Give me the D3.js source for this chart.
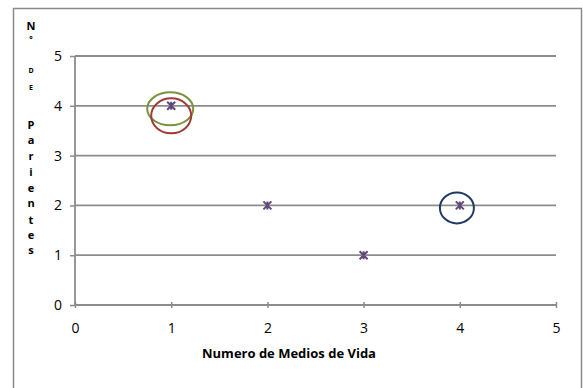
<!DOCTYPE html>
<html>
<head>
<meta charset="utf-8">
<script src="https://cdn.jsdelivr.net/npm/d3@7"></script>
<style>
  body { margin: 0; background: #fff; }
  text { font-family: "Open Sans", "Liberation Sans", sans-serif; }
</style>
</head>
<body>
<div id="chart"></div>
<script>
// data
var medios = [1, 2, 3, 4];
var parientes = [4, 2, 1, 2];
var xTicks = [0, 1, 2, 3, 4, 5];
var yTicks = [0, 1, 2, 3, 4, 5];
var yTitle = ["N", "°", "D", "E", "P", "a", "r", "i", "e", "n", "t", "e", "s"];
// hand-drawn ovals: centre in data units
var ovalX = [0.99, 1.0, 3.97];
var ovalY = [3.94, 3.8, 1.95];
var ovalColor = ["#77933c", "#a03a36", "#1f3a64"];

var width = 583, height = 388;
var margin = {top: 56, right: 27, bottom: 83, left: 75},
    w = width - margin.left - margin.right,
    h = height - margin.top - margin.bottom;

var svg = d3.select("#chart").append("svg")
    .attr("width", width)
    .attr("height", height);

// outer frame
svg.append("rect")
    .attr("x", 13.5).attr("y", 8.5)
    .attr("width", 568).attr("height", 400)
    .attr("fill", "none")
    .attr("stroke", "#8a8a8a")
    .attr("stroke-width", 1.5);

var g = svg.append("g")
    .attr("transform", "translate(" + margin.left + "," + margin.top + ")");

var x = d3.scaleLinear().domain([0, 5]).range([0, w]);
var y = d3.scaleLinear().domain([0, 5]).range([h, 0]);

// gridlines
g.selectAll(".grid")
  .data(yTicks.slice(1))
  .enter().append("line")
    .attr("x1", 0).attr("x2", w)
    .attr("y1", d => y(d)).attr("y2", d => y(d))
    .attr("stroke", "#8c8c8c")
    .attr("stroke-width", 1.8);

// y axis
var yAxis = g.append("g")
    .call(d3.axisLeft(y).tickValues(yTicks).tickSize(5).tickPadding(8).tickFormat(d3.format("d")));
// x axis
var xAxis = g.append("g")
    .attr("transform", "translate(0," + h + ")")
    .call(d3.axisBottom(x).tickValues(xTicks).tickSize(5).tickPadding(13).tickFormat(d3.format("d")));
// x axis ticks point up and down slightly in the reference
xAxis.selectAll(".tick line").attr("y1", -3).attr("y2", 3);

[xAxis, yAxis].forEach(function(a) {
  a.select(".domain").attr("stroke", "#8c8c8c").attr("stroke-width", 1.8);
  a.selectAll(".tick line").attr("stroke", "#8c8c8c").attr("stroke-width", 1.5);
  a.selectAll(".tick text").attr("font-size", 14).attr("fill", "#000");
});
yAxis.select(".domain").attr("d", "M0," + h + "V0");
xAxis.select(".domain").attr("d", "M0,0H" + w);

// markers: excel style star
var s = 4;
var star = "M" + (-s) + "," + (-s) + "L" + s + "," + s +
           "M" + (-s) + "," + s + "L" + s + "," + (-s) +
           "M0," + (-s) + "L0," + s;
g.selectAll(".pt")
  .data(medios)
  .enter().append("path")
    .attr("d", star)
    .attr("transform", (d, i) => "translate(" + x(d) + "," + y(parientes[i]) + ")")
    .attr("fill", "none")
    .attr("stroke", "#60497a")
    .attr("stroke-width", 2);

// ovals
var ovalRx = [23, 20, 17], ovalRy = [16.5, 17.5, 15.5];
g.selectAll(".oval")
  .data(ovalX)
  .enter().append("ellipse")
    .attr("cx", d => x(d))
    .attr("cy", (d, i) => y(ovalY[i]))
    .attr("rx", (d, i) => ovalRx[i])
    .attr("ry", (d, i) => ovalRy[i])
    .attr("fill", "none")
    .attr("stroke", (d, i) => ovalColor[i])
    .attr("stroke-width", 2);

// x title
svg.append("text")
    .attr("x", 289).attr("y", 358)
    .attr("text-anchor", "middle")
    .attr("font-size", 13)
    .attr("font-weight", "bold")
    .text("Numero de Medios de Vida");

// y title, stacked letters
var letterY = [26, 39, 71, 88, 125, 140, 156, 172, 188, 203, 220, 235, 250];
svg.selectAll(".yt")
  .data(yTitle)
  .enter().append("text")
    .attr("x", 31)
    .attr("y", (d, i) => letterY[i])
    .attr("dy", "0.35em")
    .attr("text-anchor", "middle")
    .attr("font-weight", "bold")
    .attr("font-size", (d, i) => (i == 2 || i == 3) ? 7 : (i == 1 ? 8 : 11))
    .text(d => d);
</script>
</body>
</html>
